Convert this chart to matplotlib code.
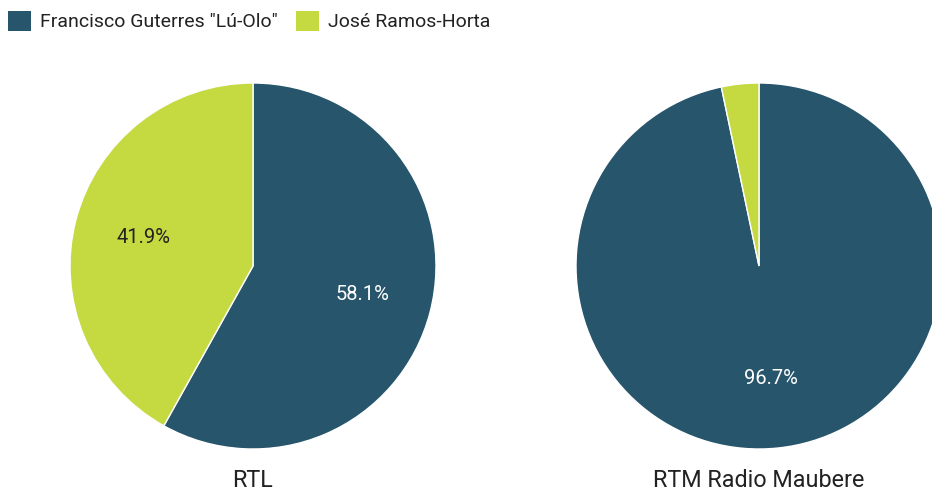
import matplotlib.pyplot as plt
from matplotlib.patches import Patch

plt.rcParams['font.family'] = ['Roboto', 'DejaVu Sans']

# data
candidates = ['Francisco Guterres "Lú-Olo"', 'José Ramos-Horta']
stations = ['RTL', 'RTM Radio Maubere']
shares = [[58.1, 41.9], [96.7, 3.3]]
colors = ['#27556b', '#c5d941']

fig = plt.figure(figsize=(9.32, 4.9), dpi=100)
W, H = 932, 490
radius_px = 183
centers = [(253, 266), (759, 266)]

for (cx, cy), station, vals in zip(centers, stations, shares):
    ax = fig.add_axes([(cx - radius_px) / W, (H - cy - radius_px) / H,
                       2 * radius_px / W, 2 * radius_px / H])
    wedges, texts, autotexts = ax.pie(
        vals, colors=colors, startangle=90, counterclock=False,
        autopct=lambda p: f'{p:.1f}%' if p > 10 else '', pctdistance=0.62,
        wedgeprops=dict(edgecolor='white', linewidth=1),
        textprops=dict(fontsize=14.5))
    autotexts[0].set_color('white')
    autotexts[1].set_color('#222222')
    ax.set_xlim(-1, 1)
    ax.set_ylim(-1, 1)
    ax.set_aspect('equal')
    fig.text(cx / W, (H - 480) / H, station, ha='center', va='center',
             fontsize=16.8, color='#222222')

handles = [Patch(facecolor=c, edgecolor='none') for c in colors]
fig.legend(handles, candidates, loc='upper left', bbox_to_anchor=(0.0, 1 - 3 / H),
           ncol=2, frameon=False, fontsize=14, handlelength=1.2,
           handleheight=1.2, handletextpad=0.45, columnspacing=0.95,
           borderaxespad=0.2, borderpad=0.2, labelcolor='#222222')

fig.savefig('out.png', dpi=100)
